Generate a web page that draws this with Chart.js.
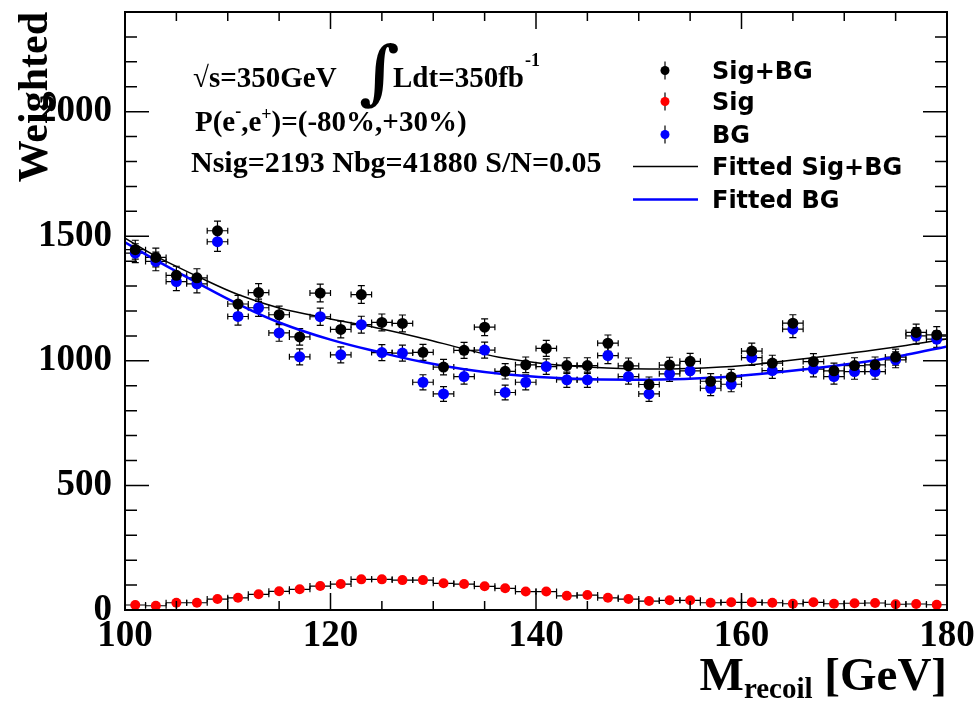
<!DOCTYPE html>
<html>
<head>
<meta charset="utf-8">
<script src="https://cdn.jsdelivr.net/npm/chart.js@4.4.1/dist/chart.umd.min.js"></script>
<style>
  html, body { margin: 0; padding: 0; background: #fff; }
  canvas { display: block; }
</style>
</head>
<body>
<canvas id="recoilChart" width="979" height="701"></canvas>
<script>
// bin centres (2 GeV bins)
const binCenters = [101, 103, 105, 107, 109, 111, 113, 115, 117, 119,
                    121, 123, 125, 127, 129, 131, 133, 135, 137, 139,
                    141, 143, 145, 147, 149, 151, 153, 155, 157, 159,
                    161, 163, 165, 167, 169, 171, 173, 175, 177, 179];
const sigBgCounts = [1446, 1415, 1343, 1333, 1522, 1228, 1274, 1185, 1096, 1272,
                     1126, 1266, 1154, 1150, 1034, 975, 1042, 1135, 958, 984,
                     1050, 981, 981, 1071, 980, 905, 983, 998, 918, 935,
                     1039, 991, 1151, 997, 960, 981, 984, 1015, 1114, 1104];
const sigCounts = [20, 17, 29, 29, 44, 49, 63, 75, 83, 96,
                   104, 123, 123, 120, 120, 107, 104, 95, 87, 74,
                   74, 57, 60, 49, 44, 36, 39, 39, 29, 31,
                   31, 29, 25, 31, 25, 27, 28, 23, 24, 21];
const bgCounts = [1432, 1399, 1318, 1309, 1478, 1178, 1213, 1112, 1016, 1177,
                  1024, 1145, 1033, 1031, 914, 867, 937, 1043, 873, 914,
                  977, 924, 924, 1021, 937, 867, 948, 960, 890, 906,
                  1013, 961, 1127, 967, 937, 957, 957, 1004, 1100, 1087];

// fitted curves
const fitX     = [100, 103, 107, 111, 115, 120, 125, 129, 133, 137, 143, 151, 158, 164, 171, 176, 180];
const fitSigBg = [1492, 1420, 1340, 1266, 1212, 1168, 1128, 1090, 1048, 1010, 980, 967, 975, 998, 1033, 1062, 1088];
const fitBg    = [1476, 1404, 1314, 1228, 1154, 1085, 1032, 995, 966, 946, 929, 924, 934, 956, 990, 1024, 1058];

const xTicks = [100, 120, 140, 160, 180];
const yTicks = [0, 500, 1000, 1500, 2000];

const serif = '"Liberation Serif", "Times New Roman", serif';

function pts(xs, ys) {
    return xs.map((v, i) => ({x: v, y: ys[i]}));
}

function drawRich(ctx, x, baseline, parts) {
    let cx = x;
    parts.forEach(([text, size, dy]) => {
        ctx.font = 'bold ' + size + 'px ' + serif;
        ctx.fillText(text, cx, baseline + (dy || 0));
        cx += ctx.measureText(text).width;
    });
    return cx;
}

const errorBars = {
    id: 'errorBars',
    beforeDatasetsDraw(chart) {
        const {ctx, scales: {x, y}} = chart;
        ctx.save();
        ctx.strokeStyle = '#000';
        ctx.lineWidth = 1.2;
        chart.data.datasets.forEach(ds => {
            if (!ds.errorBars) return;
            ds.data.forEach(p => {
                const px = x.getPixelForValue(p.x);
                const py = y.getPixelForValue(p.y);
                const xl = x.getPixelForValue(p.x - 1);
                const xr = x.getPixelForValue(p.x + 1);
                const err = Math.sqrt(p.y);
                const yt = y.getPixelForValue(p.y + err);
                const yb = y.getPixelForValue(p.y - err);
                ctx.beginPath();
                ctx.moveTo(xl, py); ctx.lineTo(xr, py);
                ctx.moveTo(xl, py - 3); ctx.lineTo(xl, py + 3);
                ctx.moveTo(xr, py - 3); ctx.lineTo(xr, py + 3);
                ctx.moveTo(px, yt); ctx.lineTo(px, yb);
                ctx.moveTo(px - 3.5, yt); ctx.lineTo(px + 3.5, yt);
                ctx.moveTo(px - 3.5, yb); ctx.lineTo(px + 3.5, yb);
                ctx.stroke();
            });
        });
        ctx.restore();
    }
};

const rootFrame = {
    id: 'rootFrame',
    afterDraw(chart) {
        const {ctx, chartArea: a, scales: {x, y}} = chart;
        ctx.save();
        ctx.strokeStyle = '#000';
        ctx.lineWidth = 1.5;
        ctx.beginPath();
        for (let v = y.min; v <= y.max; v += 100) {
            const py = y.getPixelForValue(v);
            const len = v % 500 === 0 ? 24 : 12;
            ctx.moveTo(a.left, py); ctx.lineTo(a.left + len, py);
            ctx.moveTo(a.right, py); ctx.lineTo(a.right - len, py);
        }
        for (let v = x.min; v <= x.max; v += 5) {
            const px = x.getPixelForValue(v);
            const len = v % 20 === 0 ? 17 : 9;
            ctx.moveTo(px, a.bottom); ctx.lineTo(px, a.bottom - len);
            ctx.moveTo(px, a.top); ctx.lineTo(px, a.top + len);
        }
        ctx.stroke();
        ctx.lineWidth = 2;
        ctx.strokeRect(a.left, a.top, a.right - a.left, a.bottom - a.top);

        // x axis title with subscript, right aligned to the frame
        ctx.fillStyle = '#000';
        ctx.textBaseline = 'alphabetic';
        ctx.font = 'bold 47px ' + serif;
        const wM = ctx.measureText('M').width;
        const wG = ctx.measureText(' [GeV]').width;
        ctx.font = 'bold 29px ' + serif;
        const wR = ctx.measureText('recoil').width;
        drawRich(ctx, a.right - wM - wR - wG, 690, [['M', 47], ['recoil', 29, 8], [' [GeV]', 47]]);

        // annotations
        drawRich(ctx, 193, 87, [['\u221As=350GeV', 29]]);
        ctx.font = 'bold 70px "DejaVu Serif", serif';
        ctx.fillText('\u222B', 359, 96);
        const e = drawRich(ctx, 393, 87, [['Ldt=350fb', 29]]);
        drawRich(ctx, e + 1, 66, [['-1', 18]]);
        drawRich(ctx, 195, 131, [['P(e', 29], ['-', 18, -14], [',e', 29], ['+', 18, -11], [')=(-80%,+30%)', 29]]);
        drawRich(ctx, 191, 172, [['Nsig=2193 Nbg=41880 S/N=0.05', 30]]);

        // legend
        const ds = chart.data.datasets;
        const rows = [79, 110, 143, 175, 208];
        ctx.font = 'bold 24px "DejaVu Sans", sans-serif';
        ds.forEach((d, i) => {
            const yb = rows[i];
            const yc = yb - 8.5;
            ctx.fillStyle = '#000';
            ctx.fillText(d.label, 712, yb);
            if (d.showLine) {
                ctx.strokeStyle = d.borderColor;
                ctx.lineWidth = d.borderWidth;
                ctx.beginPath();
                ctx.moveTo(633, yc); ctx.lineTo(698, yc);
                ctx.stroke();
            } else {
                ctx.strokeStyle = '#000';
                ctx.lineWidth = 1.2;
                ctx.beginPath();
                ctx.moveTo(665, yc - 9); ctx.lineTo(665, yc + 9);
                ctx.stroke();
                ctx.fillStyle = d.backgroundColor;
                ctx.beginPath();
                ctx.arc(665, yc, 4.5, 0, Math.PI * 2);
                ctx.fill();
            }
        });
        ctx.restore();
    }
};

const tickFont = {family: serif, weight: 'bold', size: 37};

new Chart(document.getElementById('recoilChart'), {
    type: 'scatter',
    data: {
        datasets: [
            {
                label: 'Sig+BG',
                data: pts(binCenters, sigBgCounts),
                backgroundColor: '#000000',
                borderColor: '#000000',
                pointRadius: 5.5,
                pointBorderWidth: 0,
                errorBars: true,
                order: 1
            },
            {
                label: 'Sig',
                data: pts(binCenters, sigCounts),
                backgroundColor: '#ff0000',
                borderColor: '#ff0000',
                pointRadius: 5,
                pointBorderWidth: 0,
                errorBars: true,
                order: 2
            },
            {
                label: 'BG',
                data: pts(binCenters, bgCounts),
                backgroundColor: '#0000ff',
                borderColor: '#0000ff',
                pointRadius: 5.5,
                pointBorderWidth: 0,
                errorBars: true,
                order: 3
            },
            {
                label: 'Fitted Sig+BG',
                data: pts(fitX, fitSigBg),
                showLine: true,
                borderColor: '#000000',
                borderWidth: 1.5,
                pointRadius: 0,
                tension: 0.4,
                order: 4
            },
            {
                label: 'Fitted BG',
                data: pts(fitX, fitBg),
                showLine: true,
                borderColor: '#0000ff',
                borderWidth: 2.5,
                pointRadius: 0,
                tension: 0.4,
                order: 5
            }
        ]
    },
    options: {
        responsive: false,
        animation: false,
        devicePixelRatio: 1,
        layout: { padding: { top: 12, right: 32, left: 0, bottom: 0 } },
        plugins: {
            legend: { display: false },
            tooltip: { enabled: false }
        },
        scales: {
            x: {
                type: 'linear',
                min: xTicks[0],
                max: xTicks[xTicks.length - 1],
                afterBuildTicks: s => { s.ticks = xTicks.map(v => ({value: v})); },
                afterFit: s => { s.height = 91; s.paddingLeft = 0; s.paddingRight = 0; },
                grid: { display: false, drawTicks: false },
                border: { display: false },
                ticks: { font: tickFont, color: '#000', padding: 4, maxRotation: 0, autoSkip: false,
                         callback: v => String(v) }
            },
            y: {
                type: 'linear',
                min: 0,
                max: 2400,
                afterBuildTicks: s => { s.ticks = yTicks.map(v => ({value: v})); },
                afterFit: s => { s.width = 125; s.paddingTop = 0; s.paddingBottom = 0; },
                grid: { display: false, drawTicks: false },
                border: { display: false },
                ticks: { font: tickFont, color: '#000', padding: 13, callback: v => String(v) },
                title: {
                    display: true,
                    text: 'Weighted',
                    align: 'end',
                    color: '#000',
                    font: { family: serif, weight: 'bold', size: 42 },
                    padding: { top: 11, bottom: 0 }
                }
            }
        }
    },
    plugins: [errorBars, rootFrame]
});
</script>
</body>
</html>
